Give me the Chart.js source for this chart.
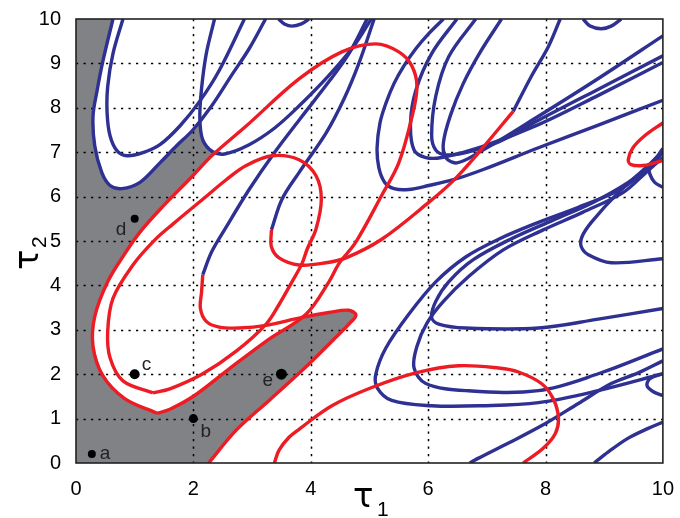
<!DOCTYPE html>
<html><head><meta charset="utf-8">
<script src="https://cdn.jsdelivr.net/npm/chart.js@4"></script>
<style>html,body{margin:0;padding:0;background:#fff}</style>
</head><body>
<canvas id="c" width="680" height="518"></canvas>
<script>
const xTicks=[0,2,4,6,8,10];
const yTicks=[0,1,2,3,4,5,6,7,8,9,10];
const RED='#ed1c24', BLUE='#2e3192', GRAY='#808285';

// red curves
const redO=[[1.38,1.12],[0.83,1.45],[0.46,1.96],[0.29,2.63],[0.32,3.30],[0.54,4.08],[0.83,4.71],[1.09,5.20],[1.43,5.71],[1.99,6.47],[2.33,6.94],[2.90,7.59],[3.80,8.65],[4.53,9.26],[5.11,9.44],[5.50,9.26],[5.72,8.95],[5.81,8.48],[5.72,7.77],[5.50,6.76],[5.21,6.03],[4.77,4.98],[4.48,4.49],[4.31,4.08],[3.92,3.35],[3.29,2.79],[2.61,2.12],[2.02,1.52],[1.60,1.21],[1.38,1.12]];
const redI=[[1.31,1.58],[0.80,1.85],[0.58,2.37],[0.54,2.97],[0.63,3.71],[0.97,4.46],[1.34,5.02],[1.65,5.38],[2.16,5.94],[2.56,6.38],[2.90,6.70],[3.34,6.92],[3.80,6.83],[4.09,6.47],[4.18,5.94],[4.09,5.27],[3.94,4.82],[3.85,4.49],[3.68,4.08],[3.46,3.57],[3.24,3.13],[2.73,2.52],[2.16,2.01],[1.60,1.67],[1.31,1.58]];
const redQ=[[2.16,4.24],[2.14,3.86],[2.12,3.48],[2.22,3.19],[2.44,3.06],[2.78,3.04],[3.24,3.10],[3.85,3.28],[4.31,3.39],[4.65,3.44],[4.77,3.33],[4.65,3.13],[4.48,2.90],[3.97,2.23],[3.29,1.41],[2.73,0.74],[2.26,0.0]];
const redP=[[3.33,5.25],[3.33,4.87],[3.46,4.62],[3.80,4.46],[4.26,4.51],[4.60,4.62],[5.21,5.04],[6.01,5.87],[6.43,6.36],[6.86,6.99],[7.45,7.92]];
const redR=[[3.38,0],[3.46,0.29],[3.63,0.58],[3.80,0.76],[4.36,1.29],[5.04,1.70],[5.79,2.03],[6.52,2.19],[7.20,2.14],[7.54,2.05],[7.93,1.79],[8.13,1.45],[8.22,1.03],[8.17,0.67],[7.96,0.33],[7.62,0]];
const redS=[[10,7.66],[9.69,7.37],[9.49,7.10],[9.41,6.83],[9.46,6.72],[9.66,6.70],[9.86,6.76],[10,6.81]];

// blue curves
const blueU1=[[0.63,10],[0.46,9.06],[0.36,8.39],[0.29,7.81],[0.32,7.14],[0.44,6.54],[0.58,6.25],[0.78,6.18],[1.09,6.32],[1.43,6.76],[1.71,7.14],[1.99,7.50],[2.31,8.04],[2.65,8.73],[2.95,9.33],[3.23,10]];
const blueU2=[[0.80,10],[0.63,9.22],[0.54,8.48],[0.53,7.88],[0.58,7.37],[0.70,7.03],[0.87,6.92],[1.14,6.99],[1.43,7.17],[1.77,7.59],[2.11,8.15],[2.44,8.84],[2.87,10]];
const blueU3=[[2.36,10],[2.22,9.22],[2.14,8.44],[2.11,7.77],[2.16,7.28],[2.33,7.01],[2.53,6.96],[2.95,7.17],[3.38,7.54],[3.80,8.04],[4.31,8.73],[4.74,9.40],[5.03,10]];
const blueQ=[[2.16,4.24],[2.31,4.75],[2.53,5.25],[2.95,6.16],[3.38,6.99],[3.80,7.72],[4.31,8.59],[4.65,9.22],[4.96,10]];
const blueP=[[3.33,5.25],[3.51,5.94],[3.80,6.54],[4.26,7.43],[4.57,8.21],[4.82,9.00],[5.08,10]];
const blueP2=[[7.45,7.92],[7.76,8.71],[8.05,9.38],[8.25,10]];
const blueU4=[[3.45,10],[3.55,9.89],[3.68,9.84],[3.84,9.89],[3.97,10]];
const blueU12=[[8.64,10],[8.76,9.84],[8.95,9.78],[9.12,9.84],[9.29,10]];
const blueU5=[[6.26,10],[6.01,9.67],[5.79,9.33],[5.59,8.95],[5.42,8.55],[5.28,8.10],[5.18,7.66],[5.13,7.10],[5.16,6.65],[5.26,6.32],[5.42,6.18],[5.67,6.16],[6.01,6.25],[6.43,6.38],[6.94,6.61],[7.88,7.10],[8.90,7.61],[10,8.17]];
const blueU6=[[6.49,10],[6.06,9.22],[5.79,8.39],[5.70,7.66],[5.76,7.05],[5.96,6.88],[6.23,6.88],[6.91,7.12],[7.88,7.62],[8.90,8.28],[10,9.02]];
const blueU7=[[6.81,10],[6.35,9.15],[6.13,8.26],[6.06,7.37],[6.13,7.05],[6.30,6.94],[6.64,6.99],[7.20,7.23],[7.88,7.72],[8.90,8.42],[10,9.17]];
const blueU13=[[7.25,10],[6.89,9.26],[6.60,8.55],[6.38,7.83],[6.26,7.21],[6.30,6.88],[6.49,6.76],[6.86,6.99],[7.88,7.81],[8.90,8.66],[10,9.62]];
const blueU8=[[10,6.99],[9.66,6.54],[9.24,6.14],[8.56,5.76],[7.88,5.42],[7.20,5.04],[6.64,4.64],[6.13,4.08],[5.67,3.35],[5.28,2.59],[5.11,2.01],[5.13,1.70],[5.38,1.41],[6.06,1.29],[6.91,1.29],[7.88,1.36],[8.90,1.63],[10,2.01]];
const blueU10=[[10,6.88],[9.71,6.54],[9.32,6.09],[8.64,5.65],[7.96,5.25],[7.28,4.80],[6.69,4.20],[6.26,3.64],[5.98,3.15],[5.81,2.63],[5.76,2.14],[5.96,1.79],[6.64,1.63],[7.88,1.63],[8.90,2.01],[10,2.57]];
const blueU9=[[10,7.08],[9.78,6.70],[9.41,6.32],[8.81,5.87],[8.13,5.47],[7.45,5.07],[6.77,4.58],[6.35,4.08],[6.13,3.64],[6.06,3.28],[6.18,3.13],[6.64,3.04],[7.88,3.04],[8.90,3.24],[10,3.48]];
const blueU11=[[10,7.03],[9.75,6.70],[9.24,6.09],[8.78,5.42],[8.62,5.09],[8.61,4.87],[8.73,4.69],[9.12,4.51],[10,4.60]];
const blueH1=[[9.75,6.70],[9.78,6.50],[9.86,6.32],[10,6.21]];
const blueH2=[[10,2.01],[9.78,1.90],[9.73,1.74],[9.83,1.61],[10,1.52]];
const blueLA=[[6.71,0],[6.86,0.11],[7.37,0.45],[8.00,0.89],[8.56,1.34],[9.12,1.79],[9.58,2.03],[10,2.30]];
const blueLB=[[8.83,0],[9.07,0.25],[9.41,0.56],[9.75,0.78],[10,0.92]];

// stable (gray) region outline
const grayRegion=[[0,0],[2.26,0],[2.73,0.74],[3.29,1.41],[3.97,2.23],[4.48,2.90],[4.65,3.13],[4.77,3.33],[4.65,3.44],[4.31,3.39],[3.92,3.33],[3.29,2.79],[2.61,2.12],[2.02,1.52],[1.60,1.21],[1.38,1.12],[0.83,1.45],[0.46,1.96],[0.29,2.63],[0.32,3.30],[0.54,4.08],[0.83,4.71],[1.09,5.20],[1.43,5.71],[1.99,6.47],[2.33,6.94],[2.16,7.28],[2.12,7.72],[1.99,7.50],[1.71,7.14],[1.43,6.76],[1.09,6.32],[0.78,6.18],[0.58,6.25],[0.44,6.54],[0.32,7.14],[0.29,7.81],[0.36,8.39],[0.46,9.06],[0.63,10],[0,10]];

// marked points
const ptNames=['a','b','c','d','e'];
const ptX=[0.27,2.0,1.0,1.0,3.5];
const ptY=[0.2,1.0,2.0,5.5,2.0];
const ptR=[4,4.5,5,4,5.5];

const toXY=a=>a.map(p=>({x:p[0],y:p[1]}));
const redCurves=[redO,redI,redQ,redP,redR,redS];
const blueCurves=[blueU1,blueU2,blueU3,blueQ,blueP,blueP2,blueU4,blueU12,blueU5,blueU6,blueU7,blueU13,blueU8,blueU10,blueU9,blueU11,blueH1,blueH2,blueLA,blueLB];

const LW=3.4;
const datasets=[];
datasets.push({data:ptX.map((v,i)=>({x:v,y:ptY[i]})),pointRadius:ptR,pointBackgroundColor:'#000',pointBorderWidth:0,showLine:false,order:0});
redCurves.forEach(c=>datasets.push({data:toXY(c),borderColor:RED,borderWidth:LW,pointRadius:0,showLine:true,tension:0.35,fill:false,order:1}));
blueCurves.forEach(c=>datasets.push({data:toXY(c),borderColor:BLUE,borderWidth:LW,pointRadius:0,showLine:true,tension:0.35,fill:false,order:2}));

const FONT="'Liberation Sans Narrow','Liberation Sans',Arial,sans-serif";

const deco={
  id:'deco',
  beforeDatasetsDraw(chart){
    const ctx=chart.ctx, xs=chart.scales.x, ys=chart.scales.y, a=chart.chartArea;
    ctx.save();
    ctx.beginPath();
    grayRegion.forEach((p,i)=>{const X=xs.getPixelForValue(p[0]),Y=ys.getPixelForValue(p[1]); if(i)ctx.lineTo(X,Y); else ctx.moveTo(X,Y);});
    ctx.closePath(); ctx.fillStyle=GRAY; ctx.fill();
    ctx.strokeStyle='#000'; ctx.lineWidth=1.5; ctx.setLineDash([2.2,5.3]);
    xTicks.slice(1,-1).forEach(v=>{const X=Math.round(xs.getPixelForValue(v))+0.5;ctx.beginPath();ctx.moveTo(X,a.top);ctx.lineTo(X,a.bottom);ctx.stroke();});
    yTicks.slice(1,-1).forEach(v=>{const Y=Math.round(ys.getPixelForValue(v))+0.5;ctx.beginPath();ctx.moveTo(a.left,Y);ctx.lineTo(a.right,Y);ctx.stroke();});
    ctx.restore();
  },
  afterDatasetsDraw(chart){
    const ctx=chart.ctx, xs=chart.scales.x, ys=chart.scales.y, a=chart.chartArea;
    ctx.save();
    ctx.strokeStyle='#222'; ctx.lineWidth=1.6; ctx.setLineDash([]);
    ctx.strokeRect(a.left,a.top,a.right-a.left,a.bottom-a.top);
    ctx.fillStyle='#222'; ctx.font="19px "+FONT; ctx.textBaseline='middle';
    const off=[[8,0],[7,13],[7,-9],[-19,11],[-19,7]];
    ptNames.forEach((n,i)=>{ctx.textAlign='left';ctx.fillText(n,xs.getPixelForValue(ptX[i])+off[i][0],ys.getPixelForValue(ptY[i])+off[i][1]);});
    // axis titles
    ctx.fillStyle='#000'; ctx.textBaseline='alphabetic'; ctx.textAlign='left';
    ctx.font="34px 'DejaVu Sans',sans-serif";
    ctx.fillText('τ',353,507);
    ctx.font="21px "+FONT; ctx.fillText('1',377,516);
    ctx.translate(38,270); ctx.rotate(-Math.PI/2);
    ctx.font="34px 'DejaVu Sans',sans-serif"; ctx.fillText('τ',0,0);
    ctx.font="21px "+FONT; ctx.fillText('2',22,8);
    ctx.restore();
  }
};

new Chart(document.getElementById('c'),{
  type:'scatter',
  data:{datasets},
  options:{
    responsive:false, animation:false, devicePixelRatio:1,
    layout:{padding:{top:15,right:15,left:0,bottom:0}},
    plugins:{legend:{display:false},tooltip:{enabled:false}},
    scales:{
      x:{type:'linear',min:0,max:10,afterBuildTicks(s){s.ticks=xTicks.map(v=>({value:v}));},
         ticks:{font:{family:FONT,size:20},color:'#000',padding:6,maxRotation:0},
         grid:{display:false},border:{display:false},
         afterFit(s){s.height=55;}},
      y:{type:'linear',min:0,max:10,afterBuildTicks(s){s.ticks=yTicks.map(v=>({value:v}));},
         ticks:{font:{family:FONT,size:20},color:'#000',padding:7},
         grid:{display:false},border:{display:false},
         afterFit(s){s.width=76;}}
    }
  },
  plugins:[deco]
});
</script>
</body></html>
